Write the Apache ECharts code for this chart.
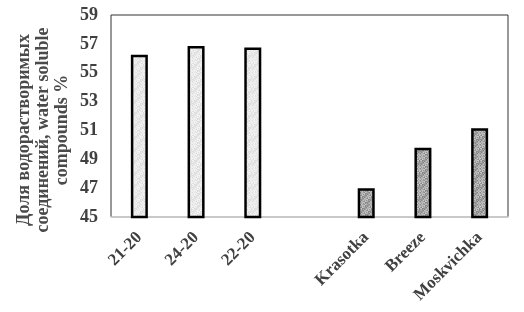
<!DOCTYPE html>
<html><head><meta charset="utf-8">
<script src="https://cdn.jsdelivr.net/npm/echarts@6/dist/echarts.min.js"></script>
<style>html,body{margin:0;padding:0;background:#fff}#c{width:524px;height:312px}</style>
</head><body><div id="c"></div>
<script>
var categories = ['21-20', '24-20', '22-20', '', 'Krasotka', 'Breeze', 'Moskvichka'];
var values = [56.25, 56.85, 56.75, null, 47.0, 49.8, 51.15];
var barTones = ['light', 'light', 'light', 'light', 'dark', 'dark', 'dark'];
var yTitleLines = ['Доля водорастворимых', 'соединений, water soluble', 'compounds %'];

function texture(base, spread) {
  var c = document.createElement('canvas');
  c.width = 12; c.height = 12;
  var ctx = c.getContext('2d');
  for (var y = 0; y < 12; y++) {
    for (var x = 0; x < 12; x++) {
      var k = ((x * 7 + y * 13 + x * y * 3) % 9) / 8 - 0.5;
      var g = Math.round(base + k * spread);
      ctx.fillStyle = 'rgb(' + g + ',' + g + ',' + g + ')';
      ctx.fillRect(x, y, 1, 1);
    }
  }
  return {image: c, repeat: 'repeat'};
}
var fills = {light: texture(232, 26), dark: texture(165, 70)};

var font = 'Liberation Serif';
var chart = echarts.init(document.getElementById('c'), null, {renderer: 'canvas'});
chart.setOption({
  animation: false,
  backgroundColor: '#fff',
  grid: {left: 111, right: 16, top: 15, bottom: 95, show: true, borderColor: '#333', borderWidth: 1},
  xAxis: {
    type: 'category', data: categories,
    axisLine: {lineStyle: {color: '#d9d9d9', width: 1.5}},
    axisTick: {show: false},
    axisLabel: {rotate: 45, interval: 0, fontFamily: font, fontWeight: 'bold', fontSize: 17, color: '#404040', margin: 18}
  },
  yAxis: {
    type: 'value', min: 45, max: 59, interval: 2,
    splitLine: {show: false},
    axisLine: {show: false}, axisTick: {show: false},
    axisLabel: {fontFamily: font, fontWeight: 'bold', fontSize: 18, color: '#404040', margin: 13}
  },
  graphic: [{
    type: 'text', x: 43, y: 130, rotation: Math.PI / 2,
    style: {text: yTitleLines.join('\n'), font: 'bold 18px "Liberation Serif"', fill: '#4a4a4a',
      align: 'center', verticalAlign: 'middle', lineHeight: 19}
  }],
  series: [{
    type: 'bar', barWidth: 17,
    data: values.map(function (v, i) {
      return {value: v, itemStyle: {color: fills[barTones[i]], borderColor: '#000', borderWidth: 2.5}};
    })
  }]
});
</script></body></html>
